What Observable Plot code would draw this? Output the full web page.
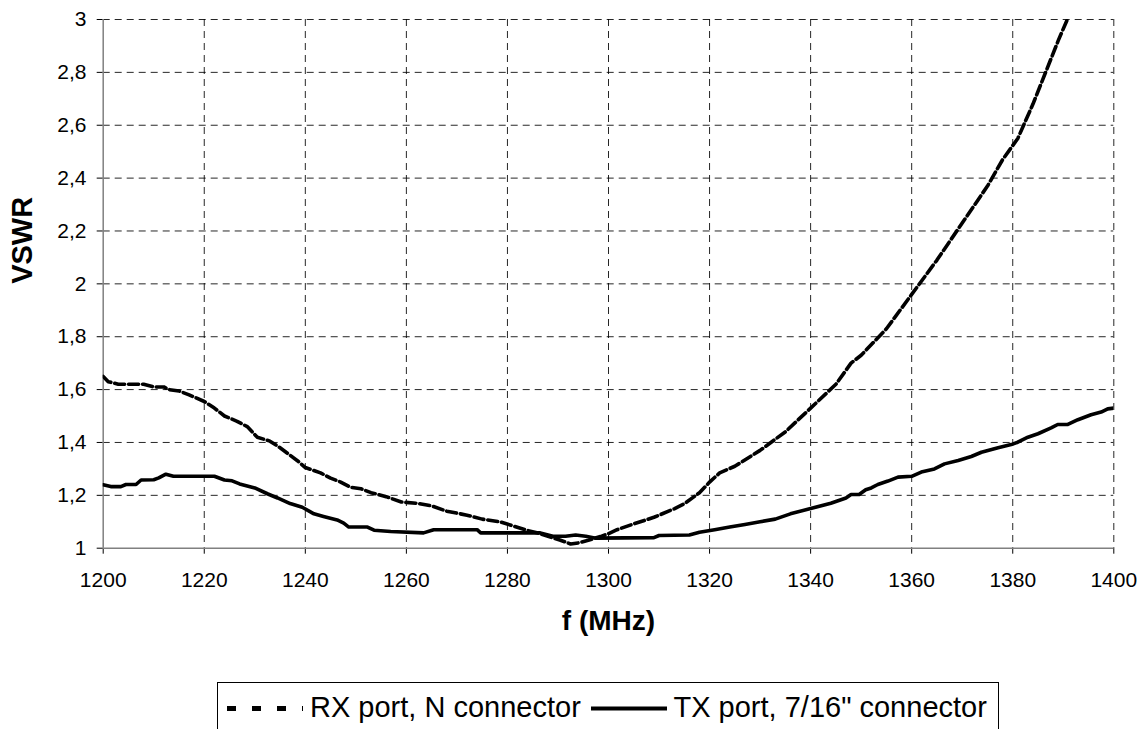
<!DOCTYPE html>
<html>
<head>
<meta charset="utf-8">
<script src="https://cdn.jsdelivr.net/npm/d3@7"></script>
<script src="https://cdn.jsdelivr.net/npm/@observablehq/plot@0.6"></script>
<style>
  html, body { margin: 0; padding: 0; background: #fff; }
  #wrap { position: relative; width: 1145px; height: 729px; overflow: hidden; font-family: "Liberation Sans", Arial, sans-serif; }
  #legend { position: absolute; left: 216.5px; top: 681.5px; width: 782px; height: 70px; border: 1px solid #000; box-sizing: border-box; background: #fff; }
  #legend .lbl { position: absolute; top: 8px; font-size: 29px; white-space: nowrap; color: #000; }
  #legend svg { position: absolute; top: 0; }
</style>
</head>
<body>
<div id="wrap">
  <div id="chart"></div>
  <div id="legend"></div>
</div>
<script>
// ---- data ----
const xTicks = [1200, 1220, 1240, 1260, 1280, 1300, 1320, 1340, 1360, 1380, 1400];
const yTicks = [1, 1.2, 1.4, 1.6, 1.8, 2, 2.2, 2.4, 2.6, 2.8, 3];
const seriesNames = ["RX port, N connector", "TX port, 7/16\" connector"];
const axisLabels = ["f (MHz)", "VSWR"];

const rxFreq = [1200, 1201, 1203, 1208, 1210, 1212, 1213, 1215, 1217, 1220, 1222, 1224, 1226.5, 1228.5, 1230.5, 1233, 1235, 1238.5, 1240, 1243, 1245, 1247, 1249, 1251, 1253, 1256, 1259, 1262, 1265, 1268, 1272, 1275, 1278.5, 1281, 1284, 1286.5, 1288.5, 1290.5, 1292.5, 1294, 1296, 1298.4, 1300, 1301.7, 1305, 1309, 1313, 1315, 1318, 1320, 1322, 1325, 1330, 1335, 1340, 1345, 1348, 1350, 1355, 1360, 1365, 1370, 1375, 1378, 1381, 1384, 1386.5, 1389, 1390.8];
const rxVswr = [1.65, 1.63, 1.62, 1.62, 1.61, 1.61, 1.60, 1.595, 1.58, 1.555, 1.53, 1.50, 1.48, 1.46, 1.42, 1.405, 1.38, 1.33, 1.305, 1.285, 1.265, 1.25, 1.23, 1.225, 1.21, 1.195, 1.175, 1.17, 1.16, 1.14, 1.125, 1.11, 1.10, 1.085, 1.067, 1.055, 1.042, 1.03, 1.016, 1.02, 1.03, 1.044, 1.055, 1.07, 1.092, 1.117, 1.149, 1.168, 1.21, 1.25, 1.285, 1.31, 1.37, 1.44, 1.53, 1.62, 1.70, 1.73, 1.83, 1.96, 2.09, 2.23, 2.37, 2.47, 2.55, 2.68, 2.80, 2.92, 3.0];

const txFreq = [1200, 1201.5, 1203.5, 1204.5, 1206.5, 1207.5, 1210, 1211, 1212.4, 1213.9, 1222, 1224, 1225.5, 1227, 1230, 1232.6, 1234.5, 1237, 1239.4, 1241.7, 1243.6, 1246.3, 1247.6, 1248.6, 1252.3, 1253.6, 1256.9, 1263.4, 1265.4, 1274, 1274.7, 1286.5, 1289, 1291.5, 1293.5, 1295.5, 1297.5, 1309, 1310, 1316, 1318, 1321, 1324, 1327, 1330, 1333, 1336, 1340, 1344, 1347, 1348, 1349.6, 1350.9, 1352, 1353.3, 1355.3, 1357.3, 1360, 1361.9, 1364.5, 1366.5, 1369.2, 1371.8, 1373.8, 1377.1, 1379.7, 1381, 1383, 1385, 1387.6, 1388.9, 1390.9, 1392.9, 1395.5, 1397.5, 1398.8, 1400];
const txVswr = [1.24, 1.233, 1.233, 1.241, 1.241, 1.258, 1.259, 1.266, 1.28, 1.272, 1.272, 1.258, 1.255, 1.243, 1.228, 1.205, 1.19, 1.169, 1.155, 1.13, 1.12, 1.107, 1.095, 1.08, 1.08, 1.068, 1.063, 1.058, 1.07, 1.07, 1.058, 1.058, 1.045, 1.045, 1.05, 1.045, 1.038, 1.04, 1.048, 1.05, 1.06, 1.07, 1.08, 1.09, 1.10, 1.11, 1.13, 1.15, 1.17, 1.19, 1.203, 1.203, 1.221, 1.228, 1.241, 1.254, 1.269, 1.272, 1.288, 1.30, 1.319, 1.332, 1.347, 1.363, 1.38, 1.392, 1.401, 1.42, 1.433, 1.455, 1.468, 1.468, 1.486, 1.505, 1.515, 1.527, 1.53];

const rx = rxFreq.map((f, i) => ({f, v: rxVswr[i]}));
const tx = txFreq.map((f, i) => ({f, v: txVswr[i]}));
const fmt = d => String(Math.round(d * 10) / 10).replace(".", ",");

const chart = Plot.plot({
  width: 1145,
  height: 670,
  marginTop: 19,
  marginBottom: 122.3,
  marginLeft: 102.7,
  marginRight: 31.7,
  style: { fontFamily: "Liberation Sans, Arial, sans-serif", fontSize: "21px", color: "#000", background: "#fff", overflow: "visible" },
  x: { domain: [1200, 1400], ticks: xTicks, tickSize: 6, tickPadding: 18, label: null, tickFormat: d => String(d) },
  y: { domain: [1, 3], ticks: yTicks, tickSize: 6, tickPadding: 10.7, label: null, tickFormat: fmt },
  marks: [
    Plot.ruleX(xTicks.slice(1), { stroke: "#000", strokeOpacity: 0.85, strokeWidth: 1, strokeDasharray: "7,5" }),
    Plot.ruleY(yTicks.slice(1), { stroke: "#000", strokeOpacity: 0.85, strokeWidth: 1, strokeDasharray: "7,5" }),
    Plot.ruleX([1200], { stroke: "#808080", strokeWidth: 1.5 }),
    Plot.ruleY([1], { stroke: "#808080", strokeWidth: 1.5 }),
    Plot.line(tx, { x: "f", y: "v", stroke: "#000", strokeWidth: 3.6, strokeLinejoin: "round", clip: true }),
    Plot.line(rx, { x: "f", y: "v", stroke: "#000", strokeWidth: 3.6, strokeDasharray: "10,4", strokeLinejoin: "round", clip: true }),
    Plot.text([axisLabels[0]], { frameAnchor: "bottom", dy: 82, fontSize: 28, fontWeight: "bold", fill: "#000" }),
    Plot.text([axisLabels[1]], { frameAnchor: "left", dx: -80, rotate: -90, fontSize: 29, fontWeight: "bold", fill: "#000" })
  ]
});
document.getElementById("chart").appendChild(chart);

// ---- legend (HTML below the SVG) ----
const legend = document.getElementById("legend");
legend.innerHTML = `
  <svg width="90" height="52" style="left:8px"><line x1="1" x2="77" y1="25.5" y2="25.5" stroke="#000" stroke-width="5" stroke-dasharray="9,16"/></svg>
  <div class="lbl" style="left:92.5px">${seriesNames[0]}</div>
  <svg width="80" height="52" style="left:373.5px"><line x1="0" x2="76" y1="25.5" y2="25.5" stroke="#000" stroke-width="4"/></svg>
  <div class="lbl" style="left:456px">${seriesNames[1]}</div>
`;
</script>
</body>
</html>
